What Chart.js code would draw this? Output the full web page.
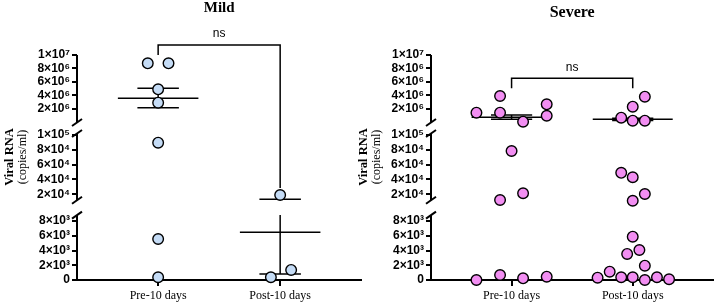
<!DOCTYPE html>
<html>
<head>
<meta charset="utf-8">
<script src="https://cdn.jsdelivr.net/npm/chart.js@4.4.1/dist/chart.umd.min.js"></script>
<style>
  html, body { margin: 0; padding: 0; background: #fff; }
  body { width: 720px; height: 305px; position: relative; overflow: hidden; }
  canvas { position: absolute; top: 0; }
  #mild { left: 0; }
  #severe { left: 350px; }
</style>
</head>
<body>
<canvas id="mild" width="368" height="305"></canvas>
<canvas id="severe" width="370" height="305"></canvas>
<script>
const categories = ["Pre-10 days", "Post-10 days"];

// tick values / labels of the three parts of the broken y axis
const topTicks = [2e6, 4e6, 6e6, 8e6, 1e7];
const topTickLabels = ["2×10⁶", "4×10⁶", "6×10⁶", "8×10⁶", "1×10⁷"];
const midTicks = [2e4, 4e4, 6e4, 8e4, 1e5];
const midTickLabels = ["2×10⁴", "4×10⁴", "6×10⁴", "8×10⁴", "1×10⁵"];
const lowTicks = [0, 2e3, 4e3, 6e3, 8e3];
const lowTickLabels = ["0", "2×10³", "4×10³", "6×10³", "8×10³"];

// Mild (copies/ml) and horizontal jitter of each dot
const mildPre = [8.77e6, 8.77e6, 4.92e6, 2.93e6, 8.96e4, 5560, 370];
const mildPreJitter = [-0.085, 0.085, 0, 0, 0, 0, 0];
const mildPost = [1.9e4, 1360, 370];
const mildPostJitter = [0, 0.09, -0.076];
const mildMean = [3.59e6, 6470];
const mildErrLow = [2.19e6, 800];
const mildErrHigh = [5.07e6, 13200];

// Severe
const severePre = [1.45e6, 3.92e6, 1.45e6, 1.15e5, 2.69e6, 1.0e6,
  7.84e4, 1.23e4, 2.14e4,
  0, 680, 230, 450];
const severePreJitter = [-0.29, -0.095, -0.095, 0.095, 0.29, 0.29,
  0, -0.095, 0.095,
  -0.29, -0.095, 0.095, 0.29];
const severePost = [3.82e6, 2.34e6, 0.71e6, 2.63e5, 2.63e5,
  4.9e4, 4.3e4, 2.04e4, 1.13e4,
  5880, 4070, 3530, 1940, 1130, 310, 370, 370, 0, 370, 100];
const severePostJitter = [0.1, 0, -0.095, 0, 0.1,
  -0.095, 0, 0.1, 0,
  0, 0.055, -0.046, 0.1, -0.19, -0.29, -0.095, 0, 0.1, 0.2, 0.3];
const severeMean = [7.7e5, 4.7e5];
const severeErrLow = [4.7e5, 3.1e5];
const severeErrHigh = [1.11e6, 6.3e5];

// broken axis: "from/to" is the drawn piece, min/max the range of its stacked scale
const segments = [
  { id: "yTop", from: 0, to: 1e7, min: -8.19e5, max: 1e7, weight: 73, ticks: topTicks, labels: topTickLabels, floor: 1.1e5 },
  { id: "yMid", from: 1.2e4, to: 1.02e5, min: 2161, max: 1.0945e5, weight: 79.5, ticks: midTicks, labels: midTickLabels, floor: 1e4 },
  { id: "yLow", from: 0, to: 8800, min: 0, max: 9831, weight: 72.5, ticks: lowTicks, labels: lowTickLabels, floor: -Infinity }
];

function segmentFor(v) {
  return segments.find(s => v >= s.floor);
}

function buildDatasets(groups, jitters, fill) {
  return segments.map(seg => {
    const data = [];
    groups.forEach((vals, gi) => {
      vals.forEach((v, i) => {
        if (segmentFor(v) === seg) data.push({ x: gi + 1 + jitters[gi][i], y: v });
      });
    });
    return {
      data,
      yAxisID: seg.id,
      pointRadius: 5.3,
      pointBackgroundColor: fill,
      pointBorderColor: "#000",
      pointBorderWidth: 1.4
    };
  });
}

const decor = {
  id: "decor",
  beforeDatasetsDraw(chart, args, o) {
    const ctx = chart.ctx;
    const area = chart.chartArea;
    const xs = chart.scales.x;
    ctx.save();
    ctx.strokeStyle = "#000";
    ctx.lineCap = "butt";

    // axis pieces with break marks
    ctx.lineWidth = 2;
    segments.forEach((seg, i) => {
      const sc = chart.scales[seg.id];
      const y1 = sc.getPixelForValue(seg.to);
      const y2 = sc.getPixelForValue(seg.from);
      ctx.beginPath();
      ctx.moveTo(area.left, y1);
      ctx.lineTo(area.left, y2);
      ctx.stroke();
      const breaks = [];
      if (i > 0) breaks.push(y1);
      if (i < segments.length - 1) breaks.push(y2);
      breaks.forEach(y => {
        ctx.beginPath();
        ctx.moveTo(area.left - 5, y + 3.5);
        ctx.lineTo(area.left + 5, y - 3.5);
        ctx.stroke();
      });
    });

    // mean and SEM
    ctx.lineWidth = 1.5;
    o.mean.forEach((m, gi) => {
      const cx = gi + 1;
      const hline = (v, half) => {
        const y = chart.scales[segmentFor(v).id].getPixelForValue(v);
        ctx.beginPath();
        ctx.moveTo(xs.getPixelForValue(cx - half), y);
        ctx.lineTo(xs.getPixelForValue(cx + half), y);
        ctx.stroke();
      };
      hline(m, 0.33);
      hline(o.errLow[gi], 0.17);
      hline(o.errHigh[gi], 0.17);
      const px = xs.getPixelForValue(cx);
      segments.forEach(seg => {
        const lo = Math.max(o.errLow[gi], seg.from);
        const hi = Math.min(o.errHigh[gi], seg.to);
        if (lo >= hi) return;
        if (seg.id === "yTop" && hi < seg.floor) return;
        const sc = chart.scales[seg.id];
        ctx.beginPath();
        ctx.moveTo(px, sc.getPixelForValue(lo));
        ctx.lineTo(px, sc.getPixelForValue(hi));
        ctx.stroke();
      });
    });
    ctx.restore();
  },
  afterDraw(chart, args, o) {
    const ctx = chart.ctx;
    const area = chart.chartArea;
    const xs = chart.scales.x;
    ctx.save();
    ctx.fillStyle = "#000";
    ctx.strokeStyle = "#000";
    ctx.textAlign = "center";
    ctx.textBaseline = "middle";

    // panel title
    ctx.font = "bold " + o.titleSize + "px 'Liberation Serif'";
    ctx.fillText(o.title, (area.left + area.right) / 2, o.titleY);

    // significance bracket
    const b = o.bracket;
    const xl = xs.getPixelForValue(1);
    const xr = xs.getPixelForValue(2);
    const yb = chart.scales.yTop.getPixelForValue(b.top);
    ctx.lineWidth = 1.5;
    ctx.beginPath();
    ctx.moveTo(xl, chart.scales[b.left[0]].getPixelForValue(b.left[1]));
    ctx.lineTo(xl, yb);
    ctx.lineTo(xr, yb);
    ctx.lineTo(xr, chart.scales[b.right[0]].getPixelForValue(b.right[1]));
    ctx.stroke();
    ctx.font = "12px 'Liberation Sans'";
    ctx.fillText("ns", (xl + xr) / 2, yb - 11);

    // y axis title
    const cy = area.top + 102;
    ctx.translate(area.left - 67, cy);
    ctx.rotate(-Math.PI / 2);
    ctx.font = "bold 12.5px 'Liberation Serif'";
    ctx.fillText("Viral RNA", 0, 0);
    ctx.font = "12px 'Liberation Serif'";
    ctx.fillText("(copies/ml)", 0, 13);
    ctx.restore();
  }
};

function makeChart(canvasId, groups, jitters, fill, decorOpts, axisWidth, rightPad) {
  const scales = {
    x: {
      type: "linear",
      min: 0.335,
      max: 2.665,
      afterBuildTicks: s => { s.ticks = categories.map((_, i) => ({ value: i + 1 })); },
      afterFit: s => { s.height = 25; },
      ticks: {
        callback: v => categories[v - 1],
        color: "#000",
        padding: 3,
        maxRotation: 0,
        autoSkip: false,
        font: { family: "'Liberation Serif'", size: 12 }
      },
      grid: { drawOnChartArea: false, tickLength: 6, lineWidth: 2, color: "#000" },
      border: { display: true, width: 2, color: "#000" }
    }
  };
  // stacked axes are laid out bottom-up, so declare the low part first
  segments.slice().reverse().forEach(seg => {
    scales[seg.id] = {
      type: "linear",
      position: "left",
      stack: "v",
      stackWeight: seg.weight,
      min: seg.min,
      max: seg.max,
      afterBuildTicks: s => { s.ticks = seg.ticks.map(v => ({ value: v })); },
      afterFit: s => { s.width = axisWidth; },
      ticks: {
        callback: v => seg.labels[seg.ticks.indexOf(v)],
        color: "#000",
        padding: 2,
        autoSkip: false,
        font: { family: "'Liberation Sans'", size: 12, weight: "bold" }
      },
      grid: { drawOnChartArea: false, tickLength: 5, lineWidth: 2, color: "#000" },
      border: { display: false }
    };
  });

  return new Chart(document.getElementById(canvasId), {
    type: "scatter",
    data: { datasets: buildDatasets(groups, jitters, fill) },
    options: {
      responsive: false,
      animation: false,
      layout: { padding: { top: 55, right: rightPad, left: 0, bottom: 0 } },
      plugins: {
        legend: { display: false },
        tooltip: { enabled: false },
        decor: decorOpts
      },
      scales,
      clip: false
    },
    plugins: [decor]
  });
}

makeChart("mild", [mildPre, mildPost], [mildPreJitter, mildPostJitter], "#c5dcf6", {
  title: "Mild", titleY: 8, titleSize: 15,
  mean: mildMean, errLow: mildErrLow, errHigh: mildErrHigh,
  bracket: { top: 1.148e7, left: ["yTop", 1e7], right: ["yMid", 2.85e4] }
}, 77, 6);

makeChart("severe", [severePre, severePost], [severePreJitter, severePostJitter], "#f28ef2", {
  title: "Severe", titleY: 13, titleSize: 16,
  mean: severeMean, errLow: severeErrLow, errHigh: severeErrHigh,
  bracket: { top: 6.55e6, left: ["yTop", 5.07e6], right: ["yTop", 5.07e6] }
}, 81, 5);
</script>
</body>
</html>
